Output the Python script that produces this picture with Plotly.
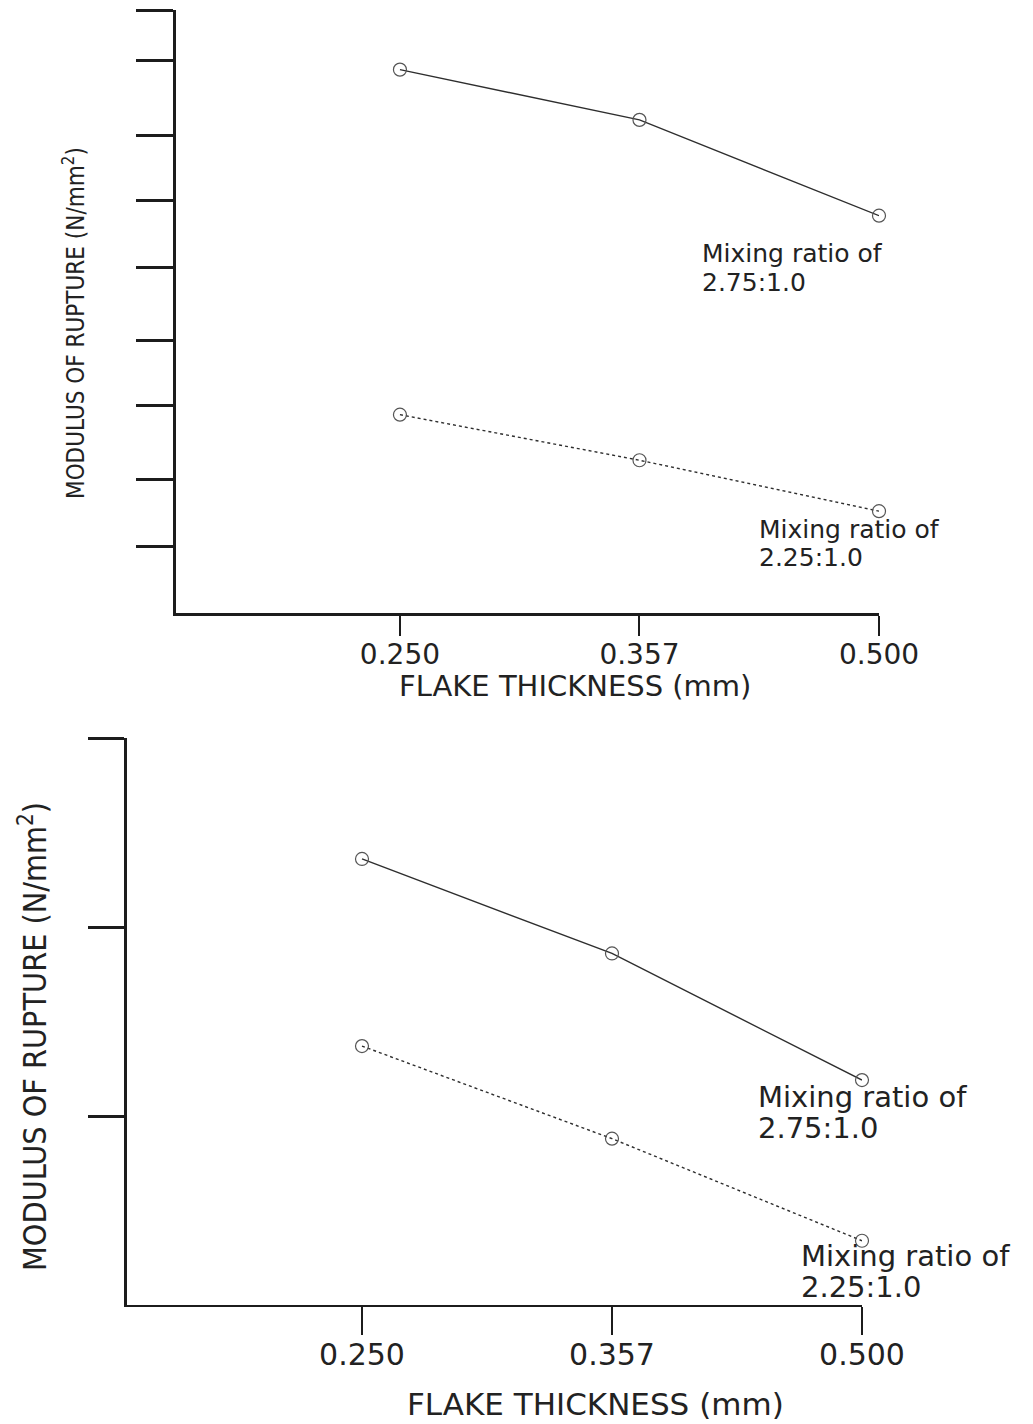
import plotly.graph_objects as go

# ---------------- data ----------------
thickness = ["0.250", "0.357", "0.500"]           # flake thickness (mm), categorical axis
top_ratio_275 = [8.11, 7.36, 5.93]                 # upper panel, mixing ratio 2.75:1.0
top_ratio_225 = [2.96, 2.28, 1.52]                 # upper panel, mixing ratio 2.25:1.0
bot_ratio_275 = [2.36, 1.86, 1.19]                 # lower panel, mixing ratio 2.75:1.0
bot_ratio_225 = [1.37, 0.88, 0.34]                 # lower panel, mixing ratio 2.25:1.0
top_yticks = [1, 2, 3.1, 4.07, 5.15, 6.15, 7.13, 8.24, 9]
bot_yticks = [1, 2, 3]

W, H = 1033, 1424
AX = "#1c1c1c"
LINE = "#2e2e2e"
MK = "#555555"
TXT = "#222222"
NARROW = "Liberation Sans Narrow, Arial Narrow, DejaVu Sans Condensed, Liberation Sans, sans-serif"
WIDE = "DejaVu Sans, Verdana, sans-serif"

fig = go.Figure()

def series(x, y, xa, ya, dash):
    fig.add_trace(go.Scatter(
        x=x, y=y, xaxis=xa, yaxis=ya, mode="lines+markers",
        line=dict(color=LINE, width=1.4, dash=dash),
        marker=dict(symbol="circle-open", size=13, color=MK, line=dict(width=1.2, color=MK)),
        cliponaxis=False, showlegend=False, hoverinfo="x+y"))

series(thickness, top_ratio_275, "x", "y", "solid")
series(thickness, top_ratio_225, "x", "y", "dot")
series(thickness, bot_ratio_275, "x2", "y2", "solid")
series(thickness, bot_ratio_225, "x2", "y2", "dot")

def px_x(p):
    return p / W

def px_y(p):
    return 1 - p / H

xcommon = dict(type="category", showline=True, linecolor=AX, showgrid=False, zeroline=False,
               ticks="outside", tickcolor=AX, tickwidth=2, automargin=False,
               tickfont=dict(family=WIDE, size=28, color=TXT), fixedrange=True)
ycommon = dict(showline=True, linecolor=AX, linewidth=3, showgrid=False, zeroline=False,
               ticks="outside", tickcolor=AX, tickwidth=3, showticklabels=False,
               automargin=False, fixedrange=True)

fig.update_layout(
    width=W, height=H, margin=dict(l=0, r=0, t=0, b=0, autoexpand=False),
    paper_bgcolor="white", plot_bgcolor="white",
    xaxis=dict(xcommon, domain=[px_x(176), px_x(879)], range=[-0.935, 2], anchor="y",
               linewidth=3, ticklen=20, ticklabelstandoff=-6),
    yaxis=dict(ycommon, domain=[px_y(613), px_y(10)], range=[0, 9], anchor="x",
               tickvals=top_yticks, ticklen=37),
    xaxis2=dict(xcommon, domain=[px_x(127), px_x(862)], range=[-0.94, 2], anchor="y2",
                linewidth=2, ticklen=28, ticklabelstandoff=-6,
                tickfont=dict(family=WIDE, size=30, color=TXT)),
    yaxis2=dict(ycommon, domain=[px_y(1305), px_y(738)], range=[0, 3], anchor="x2",
                tickvals=bot_yticks, ticklen=36),
)

def note(text, x, y, size, family=WIDE, angle=0, xanchor="left"):
    fig.add_annotation(text=text, x=px_x(x), y=px_y(y), xref="paper", yref="paper",
                       showarrow=False, xanchor=xanchor, yanchor="middle", textangle=angle,
                       font=dict(family=family, size=size, color=TXT))

# series labels
note("Mixing ratio of", 700, 254, 25)
note("2.75:1.0", 700, 282, 25)
note("Mixing ratio of", 757, 529, 25)
note("2.25:1.0", 757, 557, 25)
note("Mixing ratio of", 756, 1097, 29)
note("2.75:1.0", 756, 1128, 29)
note("Mixing ratio of", 799, 1256, 29)
note("2.25:1.0", 799, 1287, 29)

# axis titles
note("FLAKE THICKNESS (mm)", 575, 686, 29, xanchor="center")
note("FLAKE THICKNESS (mm)", 595, 1404, 31, xanchor="center")
note("MODULUS OF RUPTURE (N/mm<sup>2</sup>)", 74, 323, 24, family=NARROW, angle=-90, xanchor="center")
note("MODULUS OF RUPTURE (N/mm<sup>2</sup>)", 33, 1037, 32, family=NARROW, angle=-90, xanchor="center")

fig.write_html("out.html")
